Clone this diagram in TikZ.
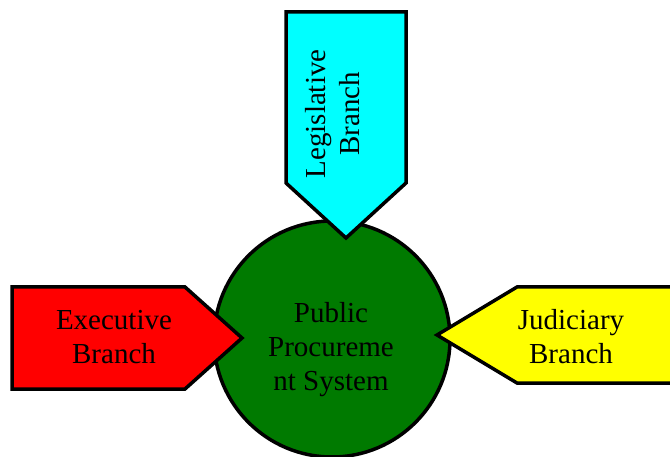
\documentclass[tikz,border=0pt]{standalone}
\usepackage{fontspec}
\setmainfont{Liberation Serif}
\begin{document}
\begin{tikzpicture}[x=1pt,y=-1pt,
  shapeline/.style={draw=black,line width=3.5pt,line join=miter},
  lbl/.style={font=\fontsize{29}{34}\selectfont,align=center,text=black,inner sep=0pt}]
\useasboundingbox (0,0) rectangle (670,457);
% central circle
\node[shapeline,circle,fill={rgb,255:red,0;green,122;blue,0},minimum size=236pt,inner sep=0pt] (pps) at (332,339) {};
\node[lbl] (ppst) at (331,350) {Public\\Procureme\\nt System};
% legislative
\filldraw[shapeline,fill={rgb,255:red,0;green,255;blue,255}] (286,12) -- (406,12) -- (406,183) -- (346,238) -- (286,183) -- cycle;
\node[lbl,rotate=90] (leg) at (333,114) {Legislative\\Branch};
% executive
\filldraw[shapeline,fill={rgb,255:red,255;green,0;blue,0}] (12,287) -- (185,287) -- (242,338) -- (185,389) -- (12,389) -- cycle;
\node[lbl] (exe) at (114,337) {Executive\\Branch};
% judiciary
\filldraw[shapeline,fill={rgb,255:red,255;green,255;blue,0}] (437,335) -- (517,287) -- (690,287) -- (690,383) -- (517,383) -- cycle;
\node[lbl] (jud) at (571,337) {Judiciary\\Branch};
\end{tikzpicture}
\end{document}
